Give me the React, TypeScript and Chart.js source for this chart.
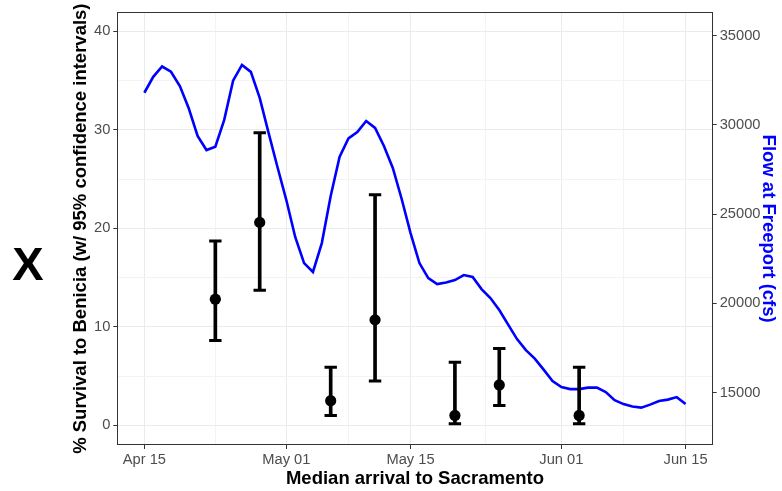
import React, { useEffect, useRef } from 'react';
import { Chart, registerables } from 'chart.js';

Chart.register(...registerables);

// ---------- data ----------
const survivalDates = ['Apr 23', 'Apr 28', 'May 06', 'May 11', 'May 20', 'May 25', 'Jun 03'];
const survivalPct = [12.8, 20.6, 2.5, 10.7, 1.0, 4.1, 1.0];
const survivalLower = [8.6, 13.7, 1.0, 4.5, 0.15, 2.0, 0.15];
const survivalUpper = [18.7, 29.7, 5.9, 23.4, 6.4, 7.8, 5.9];

// daily flow at Freeport (cfs), starting Apr 15
const flowStartDate = 'Apr 15';
const flowCfs = [
  31800, 32690, 33270, 32980, 32180, 30930, 29380, 28590, 28780, 30280,
  32480, 33360, 32970, 31510, 29550, 27640, 25790, 23720, 22260, 21760,
  23380, 26020, 28200, 29240, 29600, 30220, 29830, 28820, 27590, 25850,
  23940, 22260, 21420, 21080, 21170, 21310, 21590, 21480, 20800, 20300,
  19630, 18810, 18000, 17380, 16910, 16290, 15650, 15310, 15200, 15200,
  15280, 15280, 15030, 14580, 14360, 14220, 14160, 14330, 14530, 14610,
  14750, 14360,
];

const xTickLabels = ['Apr 15', 'May 01', 'May 15', 'Jun 01', 'Jun 15'];
const yTickValues = [0, 10, 20, 30, 40];
const y2TickValues = [15000, 20000, 25000, 30000, 35000];

// ---------- helpers ----------
const monthOffset: Record<string, number> = { Apr: -15, May: 15, Jun: 46 };
const toDay = (label: string) => {
  const [m, d] = label.split(' ');
  return monthOffset[m] + parseInt(d, 10);
};

const flowStart = toDay(flowStartDate);
const xMajor = xTickLabels.map(toDay);
const xMinor = xMajor.slice(1).map((v, i) => (v + xMajor[i]) / 2);
const xAll = [...xMajor, ...xMinor].sort((a, b) => a - b);
const yMinor = yTickValues.slice(1).map((v, i) => (v + yTickValues[i]) / 2);
const yAll = [...yTickValues, ...yMinor].sort((a, b) => a - b);

const FONT = "'Liberation Sans', Arial, sans-serif";
const TICK_FONT = { family: FONT, size: 14.7 };
const TITLE_FONT = { family: FONT, size: 18.5, weight: 'bold' as const };
const GRID_MAJOR = '#EBEBEB';
const GRID_MINOR = '#F3F3F3';
const AXIS_DARK = '#333333';

const panelPlugin = {
  id: 'panelAndTag',
  afterDraw(chart: any) {
    const { ctx, chartArea } = chart;
    ctx.save();
    ctx.strokeStyle = AXIS_DARK;
    ctx.lineWidth = 1;
    ctx.strokeRect(
      Math.round(chartArea.left) + 0.5,
      Math.round(chartArea.top) + 0.5,
      Math.round(chartArea.right) - Math.round(chartArea.left) - 1,
      Math.round(chartArea.bottom) - Math.round(chartArea.top) - 1
    );
    ctx.fillStyle = '#000';
    ctx.font = `bold 47px ${FONT}`;
    ctx.textAlign = 'center';
    ctx.textBaseline = 'alphabetic';
    ctx.fillText('X', 28, 280);
    ctx.restore();
  },
};

export default function App() {
  const ref = useRef<HTMLCanvasElement>(null);

  useEffect(() => {
    document.body.style.margin = '0';
    const xs = survivalDates.map(toDay);

    const chart = new Chart(ref.current as HTMLCanvasElement, {
      type: 'scatter',
      data: {
        datasets: [
          {
            type: 'scatter',
            label: 'survival',
            data: xs.map((x, i) => ({ x, y: survivalPct[i] })),
            pointRadius: 5.6,
            pointBackgroundColor: '#000',
            pointBorderWidth: 0,
            xAxisID: 'x',
            yAxisID: 'y',
            order: 0,
          } as any,
          {
            type: 'scatter',
            label: 'caps',
            data: [
              ...xs.map((x, i) => ({ x, y: survivalUpper[i] })),
              ...xs.map((x, i) => ({ x, y: survivalLower[i] })),
            ],
            pointStyle: 'line',
            pointRadius: 6.2,
            pointBorderColor: '#000',
            pointBorderWidth: 3,
            xAxisID: 'x',
            yAxisID: 'y',
            order: 1,
          } as any,
          {
            type: 'bar',
            label: 'ci',
            data: xs.map((x, i) => ({ x, y: [survivalLower[i], survivalUpper[i]] })),
            backgroundColor: '#000',
            borderWidth: 0,
            barThickness: 3,
            xAxisID: 'x',
            yAxisID: 'y',
            order: 2,
          } as any,
          {
            type: 'line',
            label: 'flow',
            data: flowCfs.map((v, i) => ({ x: flowStart + i, y: v })),
            borderColor: '#0000FF',
            borderWidth: 2.6,
            pointRadius: 0,
            tension: 0,
            fill: false,
            xAxisID: 'x',
            yAxisID: 'y2',
            order: 3,
          } as any,
        ],
      },
      options: {
        responsive: false,
        devicePixelRatio: 1,
        animation: false,
        events: [],
        layout: { padding: { top: 12.3, left: 0, right: 0, bottom: 0 } },
        plugins: { legend: { display: false }, tooltip: { enabled: false } },
        scales: {
          x: {
            type: 'linear',
            position: 'bottom',
            min: -3.05,
            max: 64.05,
            offset: false,
            afterBuildTicks: (s: any) => {
              s.ticks = xAll.map((v) => ({ value: v }));
            },
            afterFit: (s: any) => {
              s.height = 46;
            },
            ticks: {
              autoSkip: false,
              maxRotation: 0,
              padding: 2,
              color: '#4D4D4D',
              font: TICK_FONT,
              callback: (v: any) => {
                const idx = xMajor.indexOf(Number(v));
                return idx >= 0 ? xTickLabels[idx] : '';
              },
            },
            grid: {
              offset: false,
              color: (c: any) => (c.tick && xMajor.includes(c.tick.value) ? GRID_MAJOR : GRID_MINOR),
              lineWidth: 1,
              tickLength: 4,
              tickWidth: 1,
              tickColor: (c: any) =>
                c.tick && xMajor.includes(c.tick.value) ? AXIS_DARK : 'rgba(0,0,0,0)',
            },
            border: { display: false },
            title: {
              display: true,
              text: 'Median arrival to Sacramento',
              color: '#000',
              font: TITLE_FONT,
              padding: { top: 0, bottom: 0.5 },
            },
          },
          y: {
            type: 'linear',
            position: 'left',
            min: -2.0,
            max: 41.93,
            afterBuildTicks: (s: any) => {
              s.ticks = yAll.map((v) => ({ value: v }));
            },
            afterFit: (s: any) => {
              s.width = 117.3;
            },
            ticks: {
              autoSkip: false,
              padding: 3,
              color: '#4D4D4D',
              font: TICK_FONT,
              callback: (v: any) => (yTickValues.includes(Number(v)) ? String(v) : ''),
            },
            grid: {
              offset: false,
              color: (c: any) => (c.tick && yTickValues.includes(c.tick.value) ? GRID_MAJOR : GRID_MINOR),
              lineWidth: 1,
              tickLength: 4,
              tickWidth: 1,
              tickColor: (c: any) =>
                c.tick && yTickValues.includes(c.tick.value) ? AXIS_DARK : 'rgba(0,0,0,0)',
            },
            border: { display: false },
            title: {
              display: true,
              text: '% Survival to Benicia (w/ 95% confidence intervals)',
              color: '#000',
              font: TITLE_FONT,
              padding: { top: 70.2, bottom: 0 },
            },
          },
          y2: {
            type: 'linear',
            position: 'right',
            min: 12068,
            max: 36307,
            afterBuildTicks: (s: any) => {
              s.ticks = y2TickValues.map((v) => ({ value: v }));
            },
            afterFit: (s: any) => {
              s.width = 69.33;
            },
            ticks: {
              autoSkip: false,
              padding: 3,
              color: '#4D4D4D',
              font: TICK_FONT,
              callback: (v: any) => String(v),
            },
            grid: {
              offset: false,
              drawOnChartArea: false,
              tickLength: 4,
              tickWidth: 1,
              tickColor: AXIS_DARK,
            },
            border: { display: false },
            title: {
              display: true,
              text: 'Flow at Freeport (cfs)',
              color: '#0000FF',
              font: TITLE_FONT,
              padding: { top: 3.2, bottom: 0 },
            },
          },
        },
      } as any,
      plugins: [panelPlugin],
    });
    return () => chart.destroy();
  }, []);

  return (
    <div style={{ position: 'absolute', left: 0, top: 0, width: 782, height: 491, background: '#fff' }}>
      <canvas ref={ref} width={782} height={491} style={{ display: 'block', width: 782, height: 491 }} />
    </div>
  );
}
